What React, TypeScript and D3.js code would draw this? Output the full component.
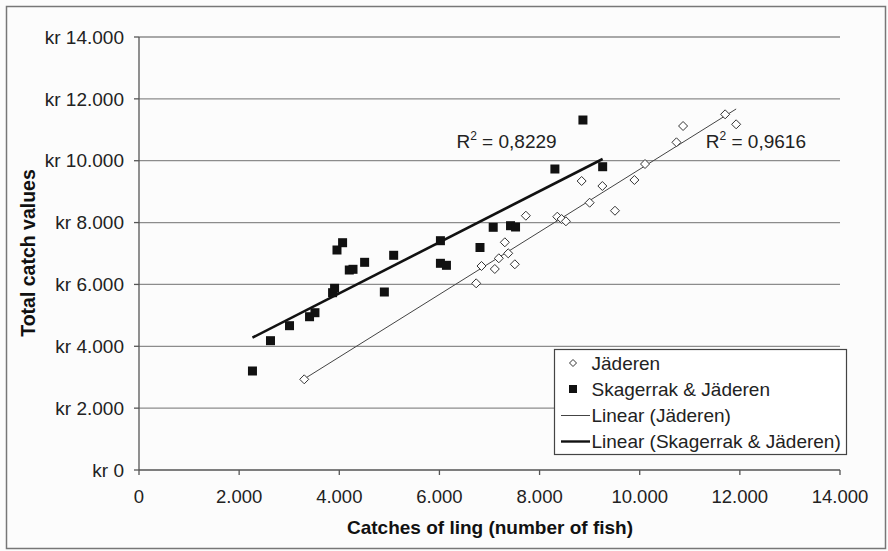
import React from "react";
import * as d3 from "d3";

const xTicks = [0, 2000, 4000, 6000, 8000, 10000, 12000, 14000];
const yTicks = [0, 2000, 4000, 6000, 8000, 10000, 12000, 14000];

const jaderenX = [3300, 6734, 6840, 7106, 7186, 7306, 7374, 7506, 7726, 8354, 8440, 8526, 8840, 9000, 9254, 9506, 9894, 10106, 10734, 10866, 11706, 11926];
const jaderenY = [2932, 6036, 6596, 6499, 6845, 7362, 7006, 6651, 8222, 8190, 8115, 8041, 9344, 8642, 9182, 8383, 9376, 9893, 10595, 11122, 11500, 11177];

const skagX = [2266, 2626, 3006, 3406, 3514, 3866, 3906, 3954, 4066, 4200, 4274, 4506, 4900, 5086, 6020, 6020, 6140, 6810, 7074, 7420, 7520, 8306, 8866, 9260];
const skagY = [3201, 4181, 4666, 4956, 5086, 5733, 5875, 7113, 7349, 6466, 6489, 6715, 5755, 6942, 7414, 6683, 6618, 7194, 7847, 7899, 7857, 9732, 11316, 9806];

const trendJX = [3300, 11926];
const trendJY = [2945, 11673];
const trendSX = [2266, 9260];
const trendSY = [4280, 10055];

const r2Labels = ["0,8229", "0,9616"];
const r2AnchorX = [7340, 12320];
const r2AnchorY = [10150, 10150];

const legendLabels = ["Jäderen", "Skagerrak & Jäderen", "Linear (Jäderen)", "Linear (Skagerrak & Jäderen)"];

const xTitle = "Catches of ling (number of fish)";
const yTitle = "Total catch values";

const W = 888;
const H = 551;
const FONT = "'Liberation Sans', Arial, sans-serif";

const locale = d3.formatLocale({ decimal: ",", thousands: ".", grouping: [3], currency: ["kr ", ""] });
const fmt = locale.format(",d");

export default function App() {
  const x = d3.scaleLinear().domain([0, 14000]).range([139, 840]);
  const y = d3.scaleLinear().domain([0, 14000]).range([470, 37]);
  const line = d3.line<[number, number]>().x((d) => x(d[0])).y((d) => y(d[1]));

  const jPts = jaderenX.map((v, i) => [v, jaderenY[i]] as [number, number]);
  const sPts = skagX.map((v, i) => [v, skagY[i]] as [number, number]);
  const tJ = trendJX.map((v, i) => [v, trendJY[i]] as [number, number]);
  const tS = trendSX.map((v, i) => [v, trendSY[i]] as [number, number]);

  const diamond = (cx: number, cy: number, r: number) => `M${cx},${cy - r}L${cx + r},${cy}L${cx},${cy + r}L${cx - r},${cy}Z`;

  const lgX = 554.5, lgY = 349.5, lgW = 292, lgH = 105;
  const rowY = [363, 389, 415.5, 441.5];

  return (
    <svg width={W} height={H} style={{ position: "absolute", left: 0, top: 0, background: "#fcfcfc" }} fontFamily={FONT}>
      <rect x={6.5} y={6.5} width={879} height={542} fill="#fcfcfc" stroke="#777" strokeWidth={1.5} />
      {yTicks.filter((t) => t > 0).map((t) => (
        <line key={"g" + t} x1={x(0)} x2={x(14000)} y1={y(t)} y2={y(t)} stroke="#8c8c8c" strokeWidth={1.3} />
      ))}
      <line x1={x(0)} x2={x(0)} y1={y(0)} y2={y(14000)} stroke="#555" strokeWidth={1.3} />
      <line x1={x(0)} x2={x(14000)} y1={y(0)} y2={y(0)} stroke="#555" strokeWidth={1.3} />
      {yTicks.map((t) => (
        <g key={"yt" + t}>
          <line x1={x(0) - 5} x2={x(0)} y1={y(t)} y2={y(t)} stroke="#555" strokeWidth={1.3} />
          <text x={124} y={y(t)} dy="0.35em" textAnchor="end" fontSize={19} fill="#222">
            {"kr " + fmt(t)}
          </text>
        </g>
      ))}
      {xTicks.map((t) => (
        <g key={"xt" + t}>
          <line x1={x(t)} x2={x(t)} y1={y(0)} y2={y(0) + 5} stroke="#555" strokeWidth={1.3} />
          <text x={x(t)} y={497} dy="0.35em" textAnchor="middle" fontSize={18.5} fill="#222">
            {fmt(t)}
          </text>
        </g>
      ))}
      <text x={490} y={527} dy="0.35em" textAnchor="middle" fontSize={19} fontWeight="bold" fill="#111">
        {xTitle}
      </text>
      <text transform={`translate(28,253) rotate(-90)`} dy="0.35em" textAnchor="middle" fontSize={19.5} fontWeight="bold" fill="#111">
        {yTitle}
      </text>
      <path d={line(tJ) || ""} stroke="#444" strokeWidth={1} fill="none" />
      <path d={line(tS) || ""} stroke="#111" strokeWidth={2.6} fill="none" />
      {jPts.map((p, i) => (
        <path key={"j" + i} d={diamond(x(p[0]), y(p[1]), 4.5)} fill="#fff" stroke="#333" strokeWidth={1} />
      ))}
      {sPts.map((p, i) => (
        <rect key={"s" + i} x={x(p[0]) - 4.5} y={y(p[1]) - 4.5} width={9} height={9} fill="#111" />
      ))}
      {r2Labels.map((l, i) => (
        <text key={"r" + i} x={x(r2AnchorX[i])} y={148} fontSize={19} textAnchor="middle" fill="#222">
          R<tspan dy={-8} fontSize={12}>2</tspan>
          <tspan dy={8}>{" = " + l}</tspan>
        </text>
      ))}
      <rect x={lgX} y={lgY} width={lgW} height={lgH} fill="#fff" stroke="#444" strokeWidth={1.2} />
      <path d={diamond(573, rowY[0], 3.5)} fill="#fff" stroke="#333" strokeWidth={1} />
      <rect x={569} y={rowY[1] - 4} width={8} height={8} fill="#111" />
      <line x1={561} x2={590} y1={rowY[2]} y2={rowY[2]} stroke="#444" strokeWidth={1} />
      <line x1={561} x2={590} y1={rowY[3]} y2={rowY[3]} stroke="#111" strokeWidth={2.4} />
      {legendLabels.map((l, i) => (
        <text key={"l" + i} x={591.5} y={rowY[i]} dy="0.35em" fontSize={19} fill="#222">
          {l}
        </text>
      ))}
    </svg>
  );
}
